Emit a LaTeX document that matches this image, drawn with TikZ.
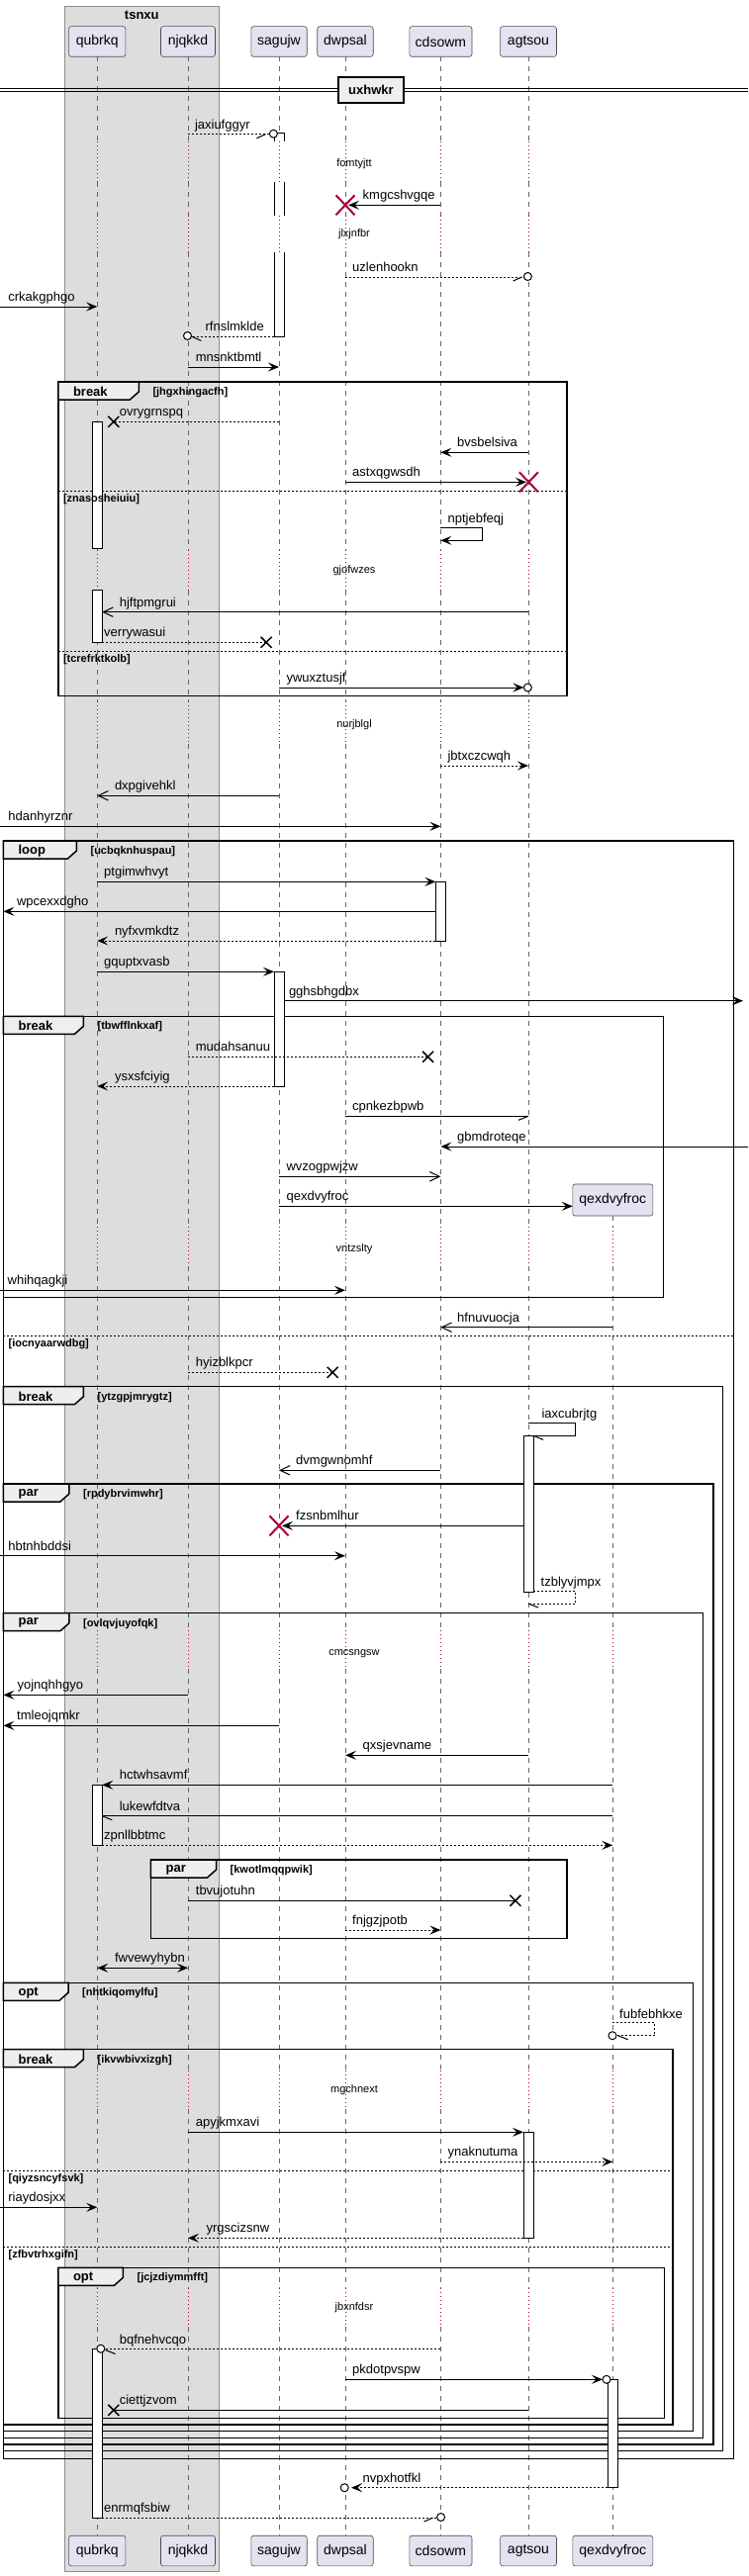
\documentclass[tikz,border=0pt]{standalone}
\usepackage{fontspec}
\setmainfont{Liberation Sans}
\usetikzlibrary{arrows.meta}
\definecolor{partfill}{HTML}{E2E2F0}
\definecolor{grpfill}{HTML}{DDDDDD}
\definecolor{tabfill}{HTML}{EEEEEE}
\definecolor{lred}{HTML}{A80036}
\def\xQ{98.2}\def\xN{190}\def\xS{282}\def\xD{349}\def\xC{445.4}\def\xA{534}\def\xX{619.3}
\tikzset{
  ml/.style={line width=1pt, draw=black},
  dl/.style={dash pattern=on 2pt off 2pt},
  fh/.style={-{Stealth[length=11pt,width=9pt,inset=4.5pt]}},
  bh/.style={{Stealth[length=11pt,width=9pt,inset=4.5pt]}-{Stealth[length=11pt,width=9pt,inset=4.5pt]}},
  oh/.style={-{Straight Barb[length=10pt,width=9.5pt]}},
  msg/.style={font=\fontsize{13}{15}\selectfont, inner sep=0pt, anchor=base west},
  dly/.style={font=\fontsize{11}{13}\selectfont, inner sep=0pt},
  grd/.style={font=\fontsize{11}{13}\selectfont\bfseries, inner sep=0pt, anchor=west},
  tabl/.style={font=\fontsize{13}{15}\selectfont\bfseries, inner sep=0pt, anchor=west},
  part/.style={draw=black!70, fill=partfill, rounded corners=2.5pt, line width=0.6pt, font=\fontsize{14}{16}\selectfont, inner sep=0pt, minimum height=30.6pt},
  lifeline/.style={draw=black!60, line width=0.6pt, dash pattern=on 5pt off 5pt},
  delayline/.style={draw=lred, line width=0.8pt, dash pattern=on 1pt off 3pt},
  frameline/.style={draw=black, line width=1.5pt},
  tabst/.style={draw=black, line width=1.5pt, fill=tabfill},
  elsel/.style={draw=black, line width=0.8pt, dash pattern=on 2pt off 2pt},
  act/.style={draw=black, line width=1pt, fill=white},
  circ/.style={draw=black, line width=1pt, fill=white},
}
% message: [opts]{x1}{x2}{y}{labelx}{label}
\newcommand\Msg[6][]{\draw[ml,#1] (#2,#4) -- (#3,#4); \node[msg] at (#5,#4-5.5) {#6};}
\newcommand\XRed[2]{\draw[lred,line width=2pt] (#1-9.5,#2-10) -- (#1+9.5,#2+10) (#1-9.5,#2+10) -- (#1+9.5,#2-10);}
\newcommand\XBlk[2]{\draw[black,line width=1.5pt] (#1-5.5,#2-5.5) -- (#1+5.5,#2+5.5) (#1-5.5,#2+5.5) -- (#1+5.5,#2-5.5);}
\newcommand\Circ[2]{\draw[circ] (#1,#2) circle[radius=4pt];}
% frame: {x0}{y0}{x1}{y1}{tabw}{kind}{guard}
\newcommand\Frm[7]{%
  \draw[frameline] (#1,#2) rectangle (#3,#4);
  \filldraw[tabst] (#1,#2) -- (#1+#5,#2) -- (#1+#5,#2+10) -- (#1+#5-9,#2+18) -- (#1,#2+18) -- cycle;
  \node[tabl] at (#1+15,#2+10) {#6};
  \node[grd] at (#1+#5+14,#2+10.5) {[#7]};}
\newcommand\ElseLine[3]{\draw[elsel] (#1,#3) -- (#2,#3);}
\newcommand\ElseLbl[3]{\node[grd] at (#1+5,#2+8.3) {[#3]};}
\newcommand\Act[3]{\draw[act] (#1-5,#2) rectangle (#1+5,#3);}
\begin{document}
\begin{tikzpicture}[x=1pt,y=-1pt]
\useasboundingbox (0,0) rectangle (756,2604);
\fill[white] (0,0) rectangle (756,2604);
% group box
\filldraw[fill=grpfill, draw=black!45, line width=0.8pt] (65.6,6) rectangle (220.9,2599.3);
\node[font=\fontsize{13}{15}\selectfont\bfseries, inner sep=0pt] (tsnxu) at (143.3,15) {tsnxu};
% lifelines
\foreach \lx in {\xQ,\xN,\xS,\xD,\xC,\xA}{
  \foreach \a/\b in {57.3/143, 184/218, 255/556, 597/709, 752/1240, 1280/1648, 1687/2093, 2132/2313, 2352/2562.7}
    \draw[lifeline] (\lx,\a) -- (\lx,\b);
  \foreach \a/\b in {143/184, 218/255, 556/597, 709/752, 1240/1280, 1648/1687, 2093/2132, 2313/2352}
    \draw[delayline] (\lx,\a) -- (\lx,\b);
}
\foreach \a/\b in {1229/1240, 1280/1648, 1687/2093, 2132/2313, 2352/2562.7}
  \draw[lifeline] (\xX,\a) -- (\xX,\b);
\foreach \a/\b in {1240/1280, 1648/1687, 2093/2132, 2313/2352}
  \draw[delayline] (\xX,\a) -- (\xX,\b);
% delay texts
\node[dly] (d1) at (358,165.7) {fomtyjtt};
\node[dly] (d2) at (358,236.7) {jlxjnfbr};
\node[dly] (d3) at (358,576.7) {gjofwzes};
\node[dly] (d4) at (358,732.3) {nurjblgl};
\node[dly] (d5) at (358,1262.3) {vntzslty};
\node[dly] (d6) at (358,1671.7) {cmcsngsw};
\node[dly] (d7) at (358,2112.7) {mgchnext};
\node[dly] (d8) at (358,2332.7) {jbxnfdsr};
% participants
\node[part, minimum width=57.3pt] (pQ) at (\xQ,42) {qubrkq};
\node[part, minimum width=55pt] (pN) at (\xN,42) {njqkkd};
\node[part, minimum width=56.4pt] (pS) at (\xS,42) {sagujw};
\node[part, minimum width=56.5pt] (pD) at (\xD,42) {dwpsal};
\node[part, minimum width=63.2pt] (pC) at (\xC,42) {cdsowm};
\node[part, minimum width=56.9pt] (pA) at (\xA,42) {agtsou};
\node[part, minimum width=57.3pt] (bQ) at (\xQ,2578.5) {qubrkq};
\node[part, minimum width=55pt] (bN) at (\xN,2578.5) {njqkkd};
\node[part, minimum width=56.4pt] (bS) at (\xS,2578.5) {sagujw};
\node[part, minimum width=56.5pt] (bD) at (\xD,2578.5) {dwpsal};
\node[part, minimum width=63.2pt] (bC) at (\xC,2578.5) {cdsowm};
\node[part, minimum width=56.9pt] (bA) at (\xA,2578.5) {agtsou};
\node[part, minimum width=81pt] (bX) at (\xX,2578.5) {qexdvyfroc};
% divider
\draw[line width=0.8pt] (0,89.3) -- (756,89.3) (0,92.7) -- (756,92.7);
\node[draw=black, line width=1.5pt, fill=tabfill, minimum width=66pt, minimum height=26pt, inner sep=0pt, font=\fontsize{13}{15}\selectfont\bfseries] (div) at (375,91) {uxhwkr};
% frames
\Frm{58.8}{386}{573}{703.3}{81.5}{break}{jhgxhingacfh}
\ElseLine{58.8}{573}{496}
\ElseLine{58.8}{573}{658.7}
\Frm{3.4}{850}{741.3}{2485.7}{74}{loop}{ucbqknhuspau}
\Frm{3.4}{1027.3}{670.4}{1311.7}{81}{break}{tbwfflnkxaf}
\ElseLine{3.4}{741.3}{1350.7}
\Frm{3.4}{1401.7}{730.7}{2477.7}{81}{break}{ytzgpjmrygtz}
\Frm{3.4}{1500}{721}{2471}{66.5}{par}{rpdybrvimwhr}
\Frm{3.4}{1630.7}{710.4}{2464.3}{66.5}{par}{ovlqvjuyofqk}
\Frm{152.4}{1880}{573}{1959.3}{66.1}{par}{kwotlmqqpwik}
\Frm{3.4}{2004.3}{700.3}{2457.7}{65.6}{opt}{nhtkiqomylfu}
\Frm{3.4}{2071.7}{680}{2451}{81}{break}{ikvwbivxizgh}
\ElseLine{3.4}{680}{2194.3}
\ElseLine{3.4}{680}{2271.3}
\Frm{58.8}{2292.3}{671.4}{2444.3}{65.6}{opt}{jcjzdiymmfft}
% activations
\fill[white] (277,134.7) rectangle (287,143);
\draw[ml] (277,143) -- (277,134.7) -- (287,134.7) -- (287,143);
\fill[white] (277,184) rectangle (287,218);
\draw[ml] (277,184) -- (277,218) (287,184) -- (287,218);
\filldraw[act] (277,255) -- (277,340) -- (287,340) -- (287,255);
\Act{\xQ}{426.3}{554.7}
\Act{\xQ}{596.7}{649.3}
\Act{\xC}{891.3}{951}
\Act{\xS}{982.3}{1098}
\Act{\xA}{1451.3}{1609.3}
\Act{\xQ}{1804.3}{1865.3}
\Act{\xA}{2155.3}{2262.3}
\Act{\xQ}{2374.7}{2545}
\Act{\xX}{2405.3}{2514.7}
% else labels (on top of activations)
\ElseLbl{58.8}{496}{znasosheiuiu}
\ElseLbl{58.8}{658.7}{tcrefrktkolb}
\ElseLbl{3.4}{1350.7}{iocnyaarwdbg}
\ElseLbl{3.4}{2194.3}{qiyzsncyfsvk}
\ElseLbl{3.4}{2271.3}{zfbvtrhxgifn}
% created participant
\node[part, minimum width=81pt, minimum height=32pt] (pX) at (\xX,1213) {qexdvyfroc};
% messages
\Msg[dl]{\xN}{272.4}{135.7}{196.8}{jaxiufggyr}
\draw[ml] (268.4,135.7) -- (259.4,139.7); \Circ{276.4}{135.2}
\Msg[fh]{\xC}{352}{207.3}{366.5}{kmgcshvgqe}
\XRed{349}{207.3}
\Msg[dl]{\xD}{529.4}{280}{356}{uzlenhookn}
\draw[ml] (527.6,280) -- (518.6,284); \Circ{533.4}{279.5}
\Msg[fh]{0}{\xQ}{310}{8.2}{crkakgphgo}
\Msg[dl]{277}{193.5}{340}{207.4}{rfnslmklde}
\Circ{189.5}{339.5} \draw[ml] (193.5,340) -- (203.5,344.5);
\Msg[fh]{\xN}{\xS}{371}{197.7}{mnsnktbmtl}
\Msg[dl]{\xS}{114.8}{426.3}{120.6}{ovrygrnspq}
\XBlk{114.8}{426.3}
\Msg[fh]{\xA}{\xC}{457.3}{462}{bvsbelsiva}
\Msg[fh]{\xD}{532}{487.3}{356}{astxqgwsdh}
\XRed{534.4}{487.3}
\draw[ml,fh] (\xC,533.3) -- (487.6,533.3) -- (487.6,546.3) -- (\xC,546.3);
\node[msg] at (452.4,528.5) {nptjebfeqj};
\Msg[oh]{\xA}{103.2}{618.7}{120.6}{hjftpmgrui}
\Msg[dl]{103.2}{269.1}{649.3}{105}{verrywasui}
\XBlk{269.1}{649.3}
\Msg[fh]{\xS}{529.4}{695}{289.4}{ywuxztusjf}
\Circ{533.4}{695}
\Msg[dl,fh]{\xC}{\xA}{774}{452.4}{jbtxczcwqh}
\Msg[oh]{\xS}{\xQ}{804.3}{115.8}{dxpgivehkl}
\Msg[fh]{0}{\xC}{835.3}{8.2}{hdanhyrznr}
\Msg[fh]{\xQ}{440.4}{891.3}{105}{ptgimwhvyt}
\Msg[fh]{440.4}{3.4}{921.3}{16.9}{wpcexxdgho}
\Msg[dl,fh]{440.4}{\xQ}{951}{115.8}{nyfxvmkdtz}
\Msg[fh]{\xQ}{277}{982.3}{105}{gquptxvasb}
\Msg[fh]{287}{751}{1011.7}{291.8}{gghsbhgdbx}
\Msg[dl]{\xN}{432.6}{1068.3}{197.7}{mudahsanuu}
\XBlk{432.6}{1068.3}
\Msg[dl,fh]{277}{\xQ}{1098}{115.8}{ysxsfciyig}
\Msg{\xD}{\xA}{1128.3}{356}{cpnkezbpwb}
\draw[ml] (\xA,1128.3) -- (\xA-10,1132.3);
\Msg[fh]{756}{\xC}{1159}{462}{gbmdroteqe}
\Msg[oh]{\xS}{\xC}{1189.3}{289.4}{wvzogpwjzw}
\Msg[fh]{\xS}{578.8}{1219.3}{289.4}{qexdvyfroc}
\Msg[fh]{0}{\xD}{1304.3}{7.5}{whihqagkji}
\Msg[oh]{\xX}{\xC}{1341.7}{462}{hfnuvuocja}
\Msg[dl]{\xN}{336.2}{1387.3}{197.7}{hyizblkpcr}
\XBlk{336.2}{1387.3}
\draw[ml] (\xA,1438.3) -- (581.6,1438.3) -- (581.6,1451.3) -- (539,1451.3);
\draw[ml] (539,1451.3) -- (549,1455.3);
\node[msg] at (547.4,1433.5) {iaxcubrjtg};
\Msg[oh]{\xC}{\xS}{1486.3}{299}{dvmgwnomhf}
\Msg[fh]{529}{285}{1542.3}{299}{fzsnbmlhur}
\XRed{\xS}{1542.3}
\Msg[fh]{0}{\xD}{1572.7}{8.2}{hbtnhbddsi}
\draw[ml,dl] (539,1608.7) -- (581.6,1608.7) -- (581.6,1621) -- (\xA,1621);
\draw[ml] (\xA,1621) -- (\xA+10,1625);
\node[msg] at (546.5,1603.8) {tzblyvjmpx};
\Msg[fh]{\xN}{3.4}{1713.3}{17.4}{yojnqhhgyo}
\Msg[fh]{\xS}{3.4}{1744.3}{17}{tmleojqmkr}
\Msg[fh]{\xA}{\xD}{1774.3}{366.5}{qxsjevname}
\Msg[fh]{\xX}{103.2}{1804.3}{120.6}{hctwhsavmf}
\Msg{\xX}{103.2}{1835.7}{120.6}{lukewfdtva}
\draw[ml] (103.2,1835.7) -- (113.2,1839.7);
\Msg[dl,fh]{103.2}{\xX}{1865.3}{105}{zpnllbbtmc}
\Msg{\xN}{520.9}{1921.3}{197.7}{tbvujotuhn}
\XBlk{520.9}{1921.3}
\Msg[dl,fh]{\xD}{\xC}{1951}{356}{fnjgzjpotb}
\Msg[bh]{\xQ}{\xN}{1989.3}{115.8}{fwvewyhybn}
\draw[ml,dl] (\xX,2044.3) -- (661.7,2044.3) -- (661.7,2057.7) -- (623,2057.7);
\Circ{619}{2057.7}
\draw[ml] (624.6,2057.7) -- (634.6,2061.7);
\node[msg] at (626,2040) {fubfebhkxe};
\Msg[fh]{\xN}{529}{2155.3}{197.7}{apyjkmxavi}
\Msg[dl,fh]{\xC}{\xX}{2185.3}{452.4}{ynaknutuma}
\Msg[fh]{0}{\xQ}{2231.3}{8.2}{riaydosjxx}
\Msg[dl,fh]{529}{\xN}{2262.3}{208.4}{yrgscizsnw}
\Msg[dl]{\xC}{105.8}{2374.7}{120.6}{bqfnehvcqo}
\Circ{101.8}{2374.2}
\draw[ml] (106.5,2375.5) -- (116.5,2379.5);
\Msg[fh]{\xD}{609}{2405.3}{356}{pkdotpvspw}
\Circ{613}{2405.3}
\Msg{\xA}{114.8}{2436.3}{120.6}{ciettjzvom}
\XBlk{114.8}{2436.3}
\Msg[dl,fh]{614.3}{355}{2514.7}{366.5}{nvpxhotfkl}
\Circ{348.2}{2514.7}
\Msg[dl]{103.2}{441.6}{2545}{105}{enrmqfsbiw}
\draw[ml] (437.6,2545) -- (428.6,2549); \Circ{445.6}{2544.5}
\end{tikzpicture}
\end{document}
